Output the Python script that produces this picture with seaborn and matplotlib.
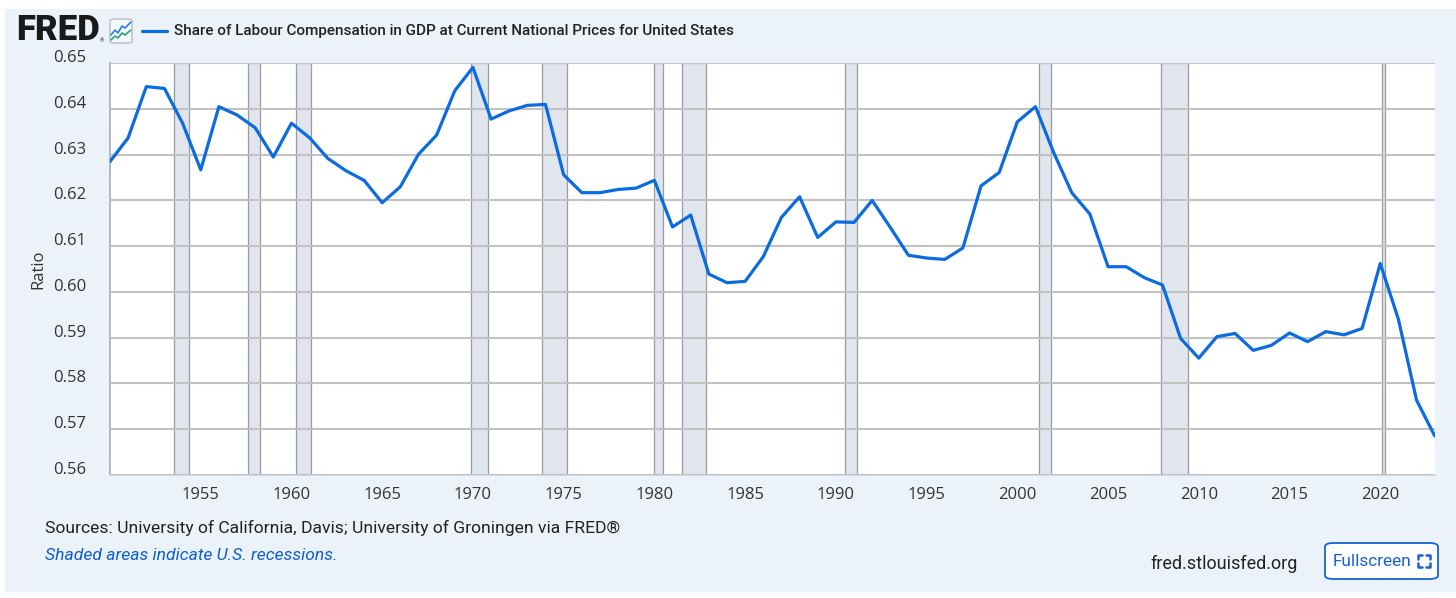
import matplotlib
matplotlib.use("Agg")
import matplotlib.pyplot as plt
import seaborn as sns
import pandas as pd
from matplotlib.patches import Rectangle, FancyBboxPatch
from matplotlib.lines import Line2D
from matplotlib.transforms import ScaledTranslation

years = list(range(1950, 2024))
labour_share = [
    0.6285, 0.6337, 0.6449, 0.6445, 0.6369, 0.6267, 0.6405, 0.6387, 0.6359, 0.6295,
    0.6369, 0.6337, 0.6292, 0.6265, 0.6244, 0.6195, 0.6230, 0.6301, 0.6343, 0.6440,
    0.6491, 0.6378, 0.6396, 0.6408, 0.6410, 0.6256, 0.6217, 0.6217, 0.6224, 0.6227,
    0.6244, 0.6142, 0.6168, 0.6039, 0.6020, 0.6023, 0.6077, 0.6163, 0.6208, 0.6119,
    0.6153, 0.6152, 0.6200, 0.6141, 0.6080, 0.6074, 0.6071, 0.6096, 0.6232, 0.6261,
    0.6372, 0.6405, 0.6305, 0.6217, 0.6170, 0.6055, 0.6055, 0.6031, 0.6015, 0.5898,
    0.5855, 0.5902, 0.5909, 0.5872, 0.5883, 0.5910, 0.5891, 0.5913, 0.5906, 0.5920,
    0.6062, 0.5940, 0.5763, 0.5685,
]
recession_starts = [1953.50, 1957.58, 1960.25, 1969.92, 1973.83, 1980.00, 1981.50, 1990.50, 2001.17, 2007.92, 2020.08]
recession_ends = [1954.33, 1958.25, 1961.08, 1970.83, 1975.17, 1980.50, 1982.83, 1991.17, 2001.83, 2009.42, 2020.25]
y_ticks = [0.56, 0.57, 0.58, 0.59, 0.60, 0.61, 0.62, 0.63, 0.64, 0.65]
x_ticks = list(range(1955, 2021, 5))

title_text = "Share of Labour Compensation in GDP at Current National Prices for United States"
y_label = "Ratio"
source_text = "Sources: University of California, Davis; University of Groningen via FRED®"
shade_note = "Shaded areas indicate U.S. recessions."
site_text = "fred.stlouisfed.org"
button_text = "Fullscreen"

df = pd.DataFrame({"year": years, "share": labour_share})

sns.set_style("white")
plt.rcParams["font.family"] = ["Roboto", "DejaVu Sans"]

W, H = 1456, 598
fig = plt.figure(figsize=(W / 100, H / 100), dpi=100)
fig.patch.set_facecolor("white")

def fx(x):
    return x / W

def fy(y):
    return 1 - y / H

BG = "#ecf2fa"
BLUE = "#0b6be0"
fig.patches.append(Rectangle((fx(5), fy(592)), fx(1456) - fx(5), fy(9) - fy(592),
                             transform=fig.transFigure, facecolor=BG, edgecolor="none", zorder=-5))

L, R, T, B = 110, 1434.7, 63.3, 474.7
ax = fig.add_axes([fx(L), fy(B), fx(R) - fx(L), fy(T) - fy(B)])
ax.set_zorder(1)
ax.set_facecolor("white")

for s, e in zip(recession_starts, recession_ends):
    ax.axvspan(s, e, facecolor="#e1e6ee", edgecolor="#9a9a9a", linewidth=0.9, zorder=1)

ax.set_yticks(y_ticks)
ax.yaxis.grid(True, color="#c2c2c2", linewidth=1.5, zorder=2)
ax.xaxis.grid(False)
ax.set_axisbelow(False)

sns.lineplot(data=df, x="year", y="share", ax=ax, color=BLUE, linewidth=2.3, zorder=5)

ax.set_xlim(1950, 2023)
ax.set_ylim(0.56, 0.65)
ax.set_xticks(x_ticks)
ax.set_xticklabels([str(v) for v in x_ticks])
ax.set_yticklabels([f"{v:.2f}" for v in y_ticks])
ax.set_xlabel("")
ax.set_ylabel(y_label, fontsize=12, color="#333333", fontfamily=["Open Sans", "DejaVu Sans"], labelpad=5)

for sp in ["top", "right"]:
    ax.spines[sp].set_visible(False)
ax.spines["left"].set_color("#aaaaaa")
ax.spines["left"].set_linewidth(1.2)
ax.spines["bottom"].set_color("#ccd6eb")
ax.spines["bottom"].set_linewidth(1.2)

ax.tick_params(axis="x", length=7.2, width=1, color="#ccd6eb", pad=1.5, labelsize=12, labelcolor="#333333")
ax.tick_params(axis="y", length=0, pad=17, labelsize=12, labelcolor="#333333")
for lab in ax.get_xticklabels() + ax.get_yticklabels():
    lab.set_fontfamily(["Open Sans", "DejaVu Sans"])
off = ScaledTranslation(0, 7 / 100, fig.dpi_scale_trans)
for lab in ax.get_yticklabels():
    lab.set_transform(lab.get_transform() + off)

# FRED logo
fig.text(fx(16), fy(31), "FRED", fontsize=25, fontweight="heavy", color="#1a1a1a",
         ha="left", va="center", fontfamily=["Roboto", "DejaVu Sans"])
fig.text(fx(100), fy(41), "®", fontsize=4, color="#1a1a1a", ha="left", va="center")
fig.patches.append(FancyBboxPatch((fx(110), fy(43)), fx(132) - fx(110), fy(19) - fy(43),
                                  boxstyle="round,pad=0,rounding_size=0.003",
                                  transform=fig.transFigure, facecolor="#f4f7fb",
                                  edgecolor="#b8bcc4", linewidth=1, zorder=3))
ix = [111, 115, 118, 122, 125, 131]
fig.lines.append(Line2D([fx(v) for v in ix], [fy(v) for v in [35, 30, 33, 26, 28, 22]],
                        transform=fig.transFigure, color="#1a73e8", linewidth=1.1, zorder=4))
fig.lines.append(Line2D([fx(v) for v in ix], [fy(v) for v in [40, 36, 38, 33, 35, 30]],
                        transform=fig.transFigure, color="#1a9e7a", linewidth=1.1, zorder=4))

# legend line + title
fig.lines.append(Line2D([fx(142), fx(167)], [fy(31), fy(31)], transform=fig.transFigure,
                        color=BLUE, linewidth=2.3))
fig.text(fx(174), fy(31), title_text, fontsize=11, fontweight="medium", color="#222222",
         ha="left", va="center")

# footer
fig.text(fx(45), fy(528), source_text, fontsize=12.6, color="#222222", ha="left", va="center")
fig.text(fx(45), fy(555), shade_note, fontsize=12.6, color="#0d5ecf", style="italic",
         ha="left", va="center")
fig.text(fx(1298), fy(564), site_text, fontsize=13, color="#222222", ha="right", va="center")

fig.patches.append(FancyBboxPatch((fx(1325), fy(579)), fx(1438) - fx(1325), fy(543) - fy(579),
                                  boxstyle="round,pad=0,rounding_size=0.006",
                                  transform=fig.transFigure, facecolor="white",
                                  edgecolor="#1662d0", linewidth=1.3, zorder=3))
fig.text(fx(1333), fy(561), button_text, fontsize=12.4, color="#1662d0", ha="left", va="center", zorder=5)
cx0, cx1, cy0, cy1, d = 1418, 1430, 555, 567, 4
for (x0, y0, sx, sy) in [(cx0, cy0, 1, 1), (cx1, cy0, -1, 1), (cx0, cy1, 1, -1), (cx1, cy1, -1, -1)]:
    fig.lines.append(Line2D([fx(x0), fx(x0), fx(x0 + sx * d)],
                            [fy(y0 + sy * d), fy(y0), fy(y0)],
                            transform=fig.transFigure, color="#1662d0", linewidth=1.8, zorder=6))

fig.savefig("out.png", dpi=100, facecolor=fig.get_facecolor())
